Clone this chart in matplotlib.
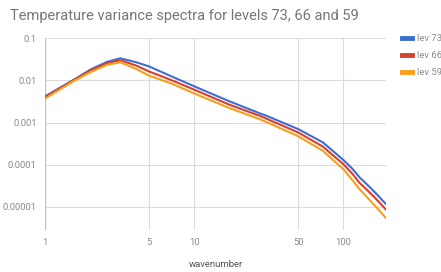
import matplotlib
matplotlib.use("Agg")
from matplotlib import pyplot as plt
from matplotlib.lines import Line2D
import numpy as np

# wavenumbers and log10 of the variance
wavenumber = [1, 1.55, 2, 2.6, 3.2, 4.1, 5, 7, 10, 17.3, 27.4, 31, 50, 72.7, 100, 115, 128,
              142, 165, 193]
lev73 = [-2.38, -1.99, -1.75, -1.56, -1.475, -1.57, -1.67, -1.90, -2.14, -2.50, -2.78, -2.85,
         -3.16, -3.47, -3.89, -4.10, -4.30, -4.45, -4.68, -4.94]
lev66 = [-2.40, -2.00, -1.77, -1.59, -1.52, -1.65, -1.79, -1.99, -2.22, -2.58, -2.84, -2.92,
         -3.24, -3.57, -3.99, -4.22, -4.43, -4.58, -4.81, -5.07]
lev59 = [-2.43, -2.02, -1.81, -1.63, -1.57, -1.73, -1.89, -2.07, -2.31, -2.66, -2.92, -3.00,
         -3.33, -3.67, -4.11, -4.37, -4.58, -4.75, -5.00, -5.27]

series = [("lev 73", lev73, "#3b6fd4"),
          ("lev 66", lev66, "#d6402f"),
          ("lev 59", lev59, "#fb9e17")]

xticks = [1, 5, 10, 50, 100]
yticks = [0.1, 0.01, 0.001, 0.0001, 0.00001]
ylabels = ["0.1", "0.01", "0.001", "0.0001", "0.00001"]

plt.rcParams['font.family'] = ['Roboto', 'DejaVu Sans']
grey = "#8a8a8a"

fig = plt.figure(figsize=(4.41, 2.72), dpi=100)
W, H = 441, 272
ax = fig.add_axes([45 / W, 1 - 230 / H, (386 - 45) / W, (230 - 38.3) / H])

for name, vals, col in series:
    ax.plot(wavenumber, 10 ** np.array(vals), color=col, lw=1.5, solid_capstyle="round",
            solid_joinstyle="round")

ax.set_xscale("log")
ax.set_yscale("log")
ax.set_xlim(1, 193)
ax.set_ylim(10 ** -5.553, 0.1)

ax.set_xticks(xticks)
ax.set_xticklabels([str(t) for t in xticks])
ax.set_yticks(yticks)
ax.set_yticklabels(ylabels)
ax.minorticks_off()
ax.tick_params(length=0, labelsize=6.8, colors=grey, pad=6)
ax.grid(True, color="#dcdcdc", lw=0.8)
ax.set_axisbelow(True)
for s in ax.spines.values():
    s.set_visible(False)
ax.axvline(1, color="#c4c4c4", lw=1, zorder=1)

ax.set_xlabel("wavenumber", fontsize=6.8, color="#555555", labelpad=9)

fig.text(10 / W, 1 - 16 / H, "Temperature variance spectra for levels 73, 66 and 59",
         fontsize=10.5, color="#777777", va="center", ha="left")

# legend on the right
for i, (name, vals, col) in enumerate(series):
    y = 1 - (38.3 + 17 * i) / H
    fig.add_artist(Line2D([402 / W, 412 / W], [y, y], color=col, lw=3.5))
    fig.text(417 / W, y, name, fontsize=6.8, color=grey, va="center", ha="left")

fig.savefig("out.png", dpi=100)
